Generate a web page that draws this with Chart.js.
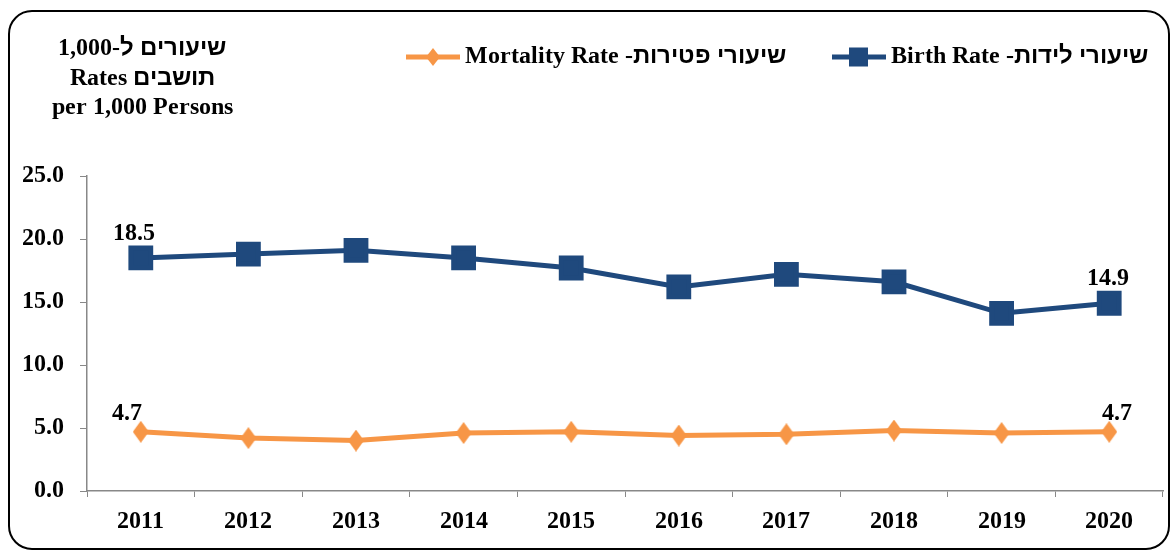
<!DOCTYPE html>
<html>
<head>
<meta charset="utf-8">
<script src="https://cdn.jsdelivr.net/npm/chart.js@4.4.1/dist/chart.umd.min.js"></script>
<style>
@font-face {
    font-family: 'ChartFont';
    src: local('Liberation Serif Bold'), local('LiberationSerif-Bold');
    font-weight: bold;
    unicode-range: U+0000-058F, U+0600-FFFF;
}
@font-face {
    font-family: 'ChartFont';
    src: local('Liberation Sans Bold'), local('LiberationSans-Bold'), local('DejaVu Sans Bold'), local('DejaVuSans-Bold');
    font-weight: bold;
    unicode-range: U+0590-05FF;
}
html, body { margin: 0; padding: 0; background: #fff; }
#frame {
    position: absolute; left: 8px; top: 10px;
    width: 1158px; height: 536px;
    border: 2px solid #000; border-radius: 24px; overflow: hidden;
}
canvas { display: block; }
</style>
</head>
<body>
<div id="frame"><canvas id="chart"></canvas></div>
<script>
// data
const years = ['2011', '2012', '2013', '2014', '2015', '2016', '2017', '2018', '2019', '2020'];
const birthRate = [18.5, 18.8, 19.1, 18.5, 17.7, 16.2, 17.2, 16.6, 14.1, 14.9];
const mortalityRate = [4.7, 4.2, 4.0, 4.6, 4.7, 4.4, 4.5, 4.8, 4.6, 4.7];
const yTicks = [0, 5, 10, 15, 20, 25];
const birthLabel = 'Birth Rate -שיעורי לידות';
const mortalityLabel = 'Mortality Rate -שיעורי פטירות';
const axisTitleLines = ['שיעורים ל-1,000', 'Rates תושבים', 'per 1,000 Persons'];

const BLUE = '#1F497D';
const ORANGE = '#F79646';
const FONT = 'ChartFont, "Liberation Serif", "DejaVu Sans", serif';

function makeDiamond(w, h) {
    let c = document.createElement('canvas');
    c.width = w; c.height = h;
    let g = c.getContext('2d');
    g.fillStyle = ORANGE;
    g.beginPath();
    g.moveTo(w / 2, 0); g.lineTo(w, h / 2); g.lineTo(w / 2, h); g.lineTo(0, h / 2);
    g.closePath();
    g.fill();
    return c;
}

// legend icon: short line with the marker in the middle
function makeLegendIcon(color, kind) {
    let c = document.createElement('canvas');
    c.width = 54; c.height = 22;
    let g = c.getContext('2d');
    g.strokeStyle = color;
    g.lineWidth = 5;
    g.beginPath(); g.moveTo(0, 11); g.lineTo(54, 11); g.stroke();
    g.fillStyle = color;
    if (kind == 'square') {
        g.fillRect(17, 1.5, 19, 19);
    } else {
        g.beginPath();
        g.moveTo(27, 2); g.lineTo(34, 11); g.lineTo(27, 20); g.lineTo(20, 11);
        g.closePath(); g.fill();
    }
    return c;
}

// y-axis caption in the top left corner
const axisCaption = {
    id: 'axisCaption',
    afterDraw(chart) {
        let ctx = chart.ctx;
        ctx.save();
        ctx.font = 'bold 24px ' + FONT;
        ctx.fillStyle = '#000';
        ctx.textAlign = 'center';
        ctx.textBaseline = 'middle';
        let ys = [37, 67, 96];
        for (let i = 0; i < axisTitleLines.length; i++) {
            ctx.fillText(axisTitleLines[i], 132, ys[i]);
        }
        ctx.restore();
    }
};

// value labels on the first and last point of each line
const edgeLabels = {
    id: 'edgeLabels',
    afterDatasetsDraw(chart) {
        let ctx = chart.ctx;
        ctx.save();
        ctx.font = 'bold 24px ' + FONT;
        ctx.fillStyle = '#000';
        ctx.textAlign = 'center';
        ctx.textBaseline = 'alphabetic';
        chart.data.datasets.forEach((ds, i) => {
            let meta = chart.getDatasetMeta(i);
            let ends = [0, ds.data.length - 1];
            ends.forEach((j, k) => {
                let pt = meta.data[j];
                let shift = ds.labelShift[k];
                ctx.fillText(ds.data[j].toFixed(1), pt.x + shift[0], pt.y + shift[1]);
            });
        });
        ctx.restore();
    }
};

// legend band is tall so the plot starts lower; then nudge the legend into place
const legendSpace = {
    id: 'legendSpace',
    beforeInit(chart) {
        let fit = chart.legend.fit;
        chart.legend.fit = function () {
            fit.bind(chart.legend)();
            this.height = 164;
        };
    },
    afterLayout(chart) {
        chart.legend.top -= 20;
        chart.legend.left += 38;
        chart.legend.right += 38;
    }
};

function buildChart() {
    let ctx = document.getElementById('chart').getContext('2d');
    let chart = new Chart(ctx, {
        type: 'line',
        data: {
            labels: years,
            datasets: [{
                label: mortalityLabel,
                data: mortalityRate,
                borderColor: ORANGE,
                backgroundColor: ORANGE,
                borderWidth: 5,
                pointStyle: makeDiamond(16, 22),
                pointRadius: 10,
                tension: 0,
                legendIcon: makeLegendIcon(ORANGE, 'diamond'),
                labelShift: [[-14, -12], [8, -12]]
            }, {
                label: birthLabel,
                data: birthRate,
                borderColor: BLUE,
                backgroundColor: BLUE,
                borderWidth: 5,
                pointStyle: 'rect',
                pointRadius: 14,
                tension: 0,
                legendIcon: makeLegendIcon(BLUE, 'square'),
                labelShift: [[-7, -18], [-1, -18]]
            }]
        },
        options: {
            responsive: true,
            maintainAspectRatio: false,
            animation: false,
            layout: { autoPadding: false, padding: { top: 0, right: 5, bottom: 0, left: 0 } },
            plugins: {
                legend: {
                    position: 'top',
                    align: 'end',
                    labels: {
                        usePointStyle: true,
                        pointStyleWidth: 40,
                        padding: 53,
                        color: '#000',
                        font: { family: FONT, size: 24, weight: 'bold' },
                        generateLabels: function (chart) {
                            return chart.data.datasets.map((ds, i) => ({
                                text: ds.label,
                                pointStyle: ds.legendIcon,
                                fillStyle: ds.borderColor,
                                strokeStyle: ds.borderColor,
                                lineWidth: 0,
                                datasetIndex: i,
                                hidden: false
                            }));
                        }
                    }
                },
                tooltip: { enabled: false }
            },
            scales: {
                x: {
                    offset: true,
                    grid: { drawOnChartArea: false, drawTicks: true, tickLength: 6, color: '#888', offset: true },
                    border: { color: '#888', width: 1.5 },
                    ticks: { color: '#000', padding: 10, font: { family: FONT, size: 24, weight: 'bold' } },
                    afterFit: function (scale) {
                        scale.height = 57;
                        scale.paddingLeft = 0;
                        scale.paddingRight = 0;
                    }
                },
                y: {
                    min: 0,
                    max: 25,
                    afterBuildTicks: function (scale) {
                        scale.ticks = yTicks.map(v => ({ value: v }));
                    },
                    grid: { drawOnChartArea: false, drawTicks: true, tickLength: 7, color: '#888' },
                    border: { color: '#888', width: 1.5 },
                    ticks: {
                        color: '#000',
                        padding: 16,
                        font: { family: FONT, size: 24, weight: 'bold' },
                        callback: function (v) { return Number(v).toFixed(1); }
                    },
                    afterFit: function (scale) { scale.width = 77; }
                }
            }
        },
        plugins: [legendSpace, axisCaption, edgeLabels]
    });
}

Promise.all([
    document.fonts.load('bold 24px ChartFont', 'Rate 2011'),
    document.fonts.load('bold 24px ChartFont', 'שיעורי לידות')
]).then(buildChart, buildChart);
</script>
</body>
</html>
